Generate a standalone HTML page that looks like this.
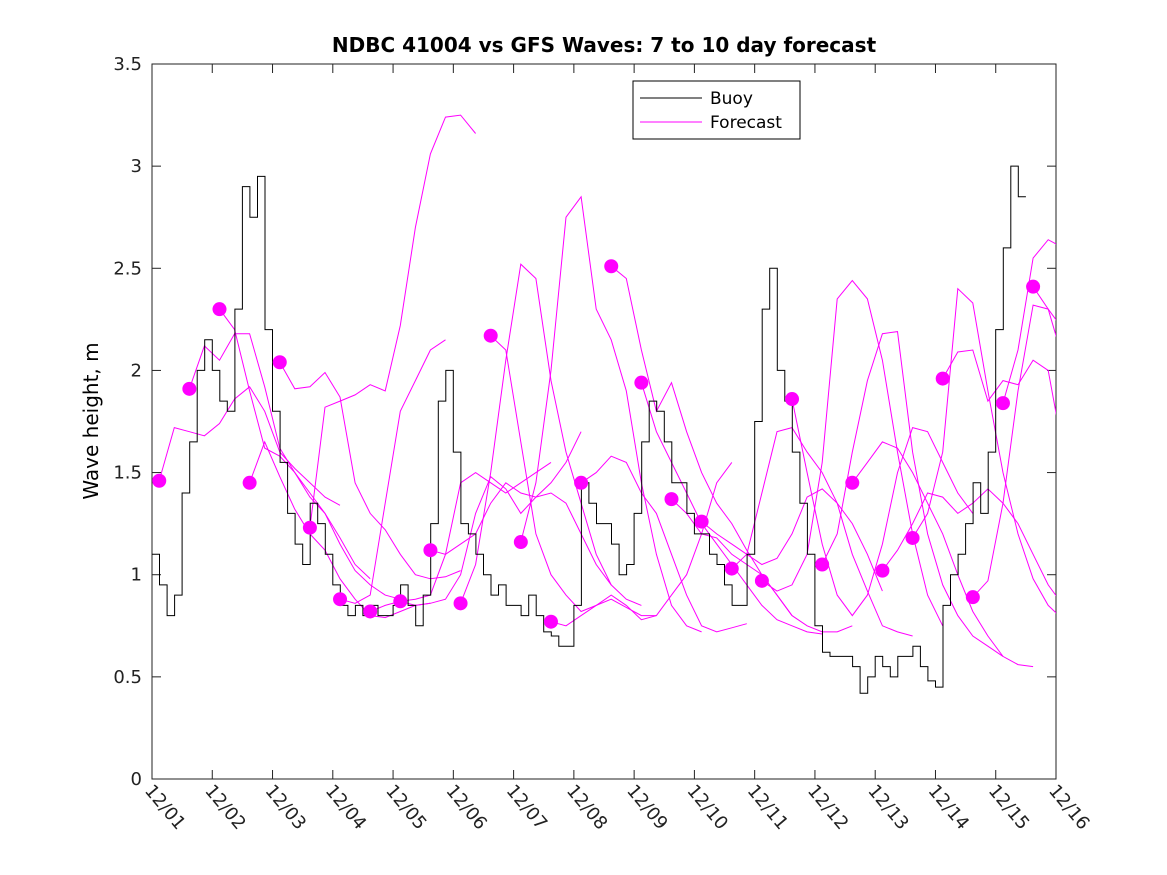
<!DOCTYPE html>
<html><head><meta charset="utf-8"><style>
body{margin:0;background:#fff;}
svg{display:block;font-family:"DejaVu Sans","Liberation Sans",sans-serif;}
</style></head><body>
<svg id="chart" width="1167" height="875" viewBox="0 0 1167 875" xmlns="http://www.w3.org/2000/svg">
<defs><clipPath id="clip"><rect x="152" y="64" width="904" height="715"/></clipPath></defs>
<rect width="1167" height="875" fill="#fff"/>
<text x="604" y="52" text-anchor="middle" font-size="20" font-weight="bold">NDBC 41004 vs GFS Waves: 7 to 10 day forecast</text>
<text transform="translate(98,421) rotate(-90)" text-anchor="middle" font-size="20">Wave height, m</text>
<g id="plot"></g>
<g>
<rect x="633" y="81" width="167" height="58" fill="#fff" stroke="#000" stroke-width="1"/>
<line x1="640" y1="98" x2="702" y2="98" stroke="#000"/>
<text x="710" y="104" font-size="17">Buoy</text>
<line x1="640" y1="122" x2="702" y2="122" stroke="#f0f"/>
<text x="710" y="128" font-size="17">Forecast</text>
</g>
</svg>
<script>
const xLabels=["12/01","12/02","12/03","12/04","12/05","12/06","12/07","12/08","12/09","12/10","12/11","12/12","12/13","12/14","12/15","12/16"];
const yTicks=[0,0.5,1,1.5,2,2.5,3,3.5];
const yTickLabels=["0","0.5","1","1.5","2","2.5","3","3.5"];
const buoyStep=0.125;
const buoy=[1.10,0.95,0.80,0.90,1.40,1.65,2.00,2.15,2.00,1.85,1.80,2.30,2.90,2.75,2.95,2.20,1.80,1.55,1.30,1.15,1.05,1.35,1.25,1.10,0.95,0.85,0.80,0.85,0.80,0.85,0.80,0.80,0.85,0.95,0.85,0.75,0.90,1.25,1.85,2.00,1.60,1.25,1.20,1.10,1.00,0.90,0.95,0.85,0.85,0.80,0.90,0.80,0.72,0.70,0.65,0.65,0.85,1.45,1.35,1.25,1.25,1.15,1.00,1.05,1.30,1.65,1.85,1.80,1.65,1.45,1.45,1.30,1.20,1.20,1.10,1.05,0.95,0.85,0.85,1.10,1.75,2.30,2.50,2.00,1.85,1.60,1.35,1.10,0.75,0.62,0.60,0.60,0.60,0.55,0.42,0.50,0.60,0.55,0.50,0.60,0.60,0.65,0.55,0.48,0.45,0.85,1.00,1.10,1.25,1.45,1.30,1.60,2.20,2.60,3.00,2.85];
const fcStep=0.25;
const fcStarts=[0.12,0.62,1.12,1.62,2.12,2.62,3.12,3.62,4.12,4.62,5.12,5.62,6.12,6.62,7.12,7.62,8.12,8.62,9.12,9.62,10.12,10.62,11.12,11.62,12.12,12.62,13.12,13.62,14.12,14.62];
const fcValues=[
[1.46,1.72,1.70,1.68,1.74,1.86,1.92,1.80,1.60,1.52,1.45,1.38,1.34],
[1.91,2.12,2.05,2.18,2.18,1.92,1.62,1.50,1.40,1.30,1.18,1.05,0.98],
[2.30,2.20,1.90,1.62,1.58,1.50,1.38,1.30,1.15,1.02,0.95,0.90,0.88],
[1.45,1.65,1.48,1.32,1.20,1.12,0.98,0.88,0.80,0.79,0.82,0.85,0.86],
[2.04,1.91,1.92,1.99,1.87,1.45,1.30,1.22,1.10,1.00,0.98,0.99,1.02],
[1.23,1.82,1.85,1.88,1.93,1.90,2.22,2.70,3.06,3.24,3.25,3.16],
[0.88,0.86,0.90,1.35,1.80,1.95,2.10,2.15],
[0.82,0.85,0.87,0.88,0.90,1.10,1.45,1.50,1.45,1.40,1.45,1.50,1.55],
[0.87,0.85,0.86,0.88,1.00,1.30,1.48,1.42,1.30,1.38,1.45,1.55,1.70],
[1.12,1.10,1.15,1.20,1.35,1.45,1.40,1.38,1.40,1.35,1.20,1.05,0.95],
[0.86,1.05,1.50,2.05,2.52,2.45,1.95,1.60,1.35,1.10,0.95,0.88,0.85],
[2.17,2.10,1.65,1.20,1.00,0.90,0.82,0.85,0.88,0.84,0.80,0.80],
[1.16,1.45,2.00,2.75,2.85,2.30,2.15,1.90,1.45,1.10,0.85,0.75,0.72],
[0.77,0.75,0.80,0.85,0.90,0.85,0.78,0.80,0.90,1.00,1.20,1.45,1.55],
[1.45,1.50,1.58,1.55,1.40,1.30,1.10,0.90,0.75,0.72,0.74,0.76],
[2.51,2.45,2.10,1.80,1.94,1.70,1.50,1.35,1.25,1.12,1.00,0.90,0.80],
[1.94,1.70,1.55,1.40,1.25,1.15,1.05,0.95,0.85,0.78,0.75,0.72,0.71],
[1.37,1.30,1.20,1.18,1.10,1.05,1.00,0.90,0.80,0.75,0.72,0.72,0.75],
[1.26,1.20,1.15,1.10,1.05,1.08,1.20,1.38,1.42,1.35,1.25,1.10,0.92],
[1.03,1.10,1.40,1.70,1.72,1.60,1.50,1.35,1.10,0.92,0.75,0.72,0.70],
[0.97,0.92,0.95,1.10,1.55,2.35,2.44,2.35,2.05,1.60,1.20,0.90,0.75],
[1.86,1.50,1.15,0.90,0.80,0.90,1.15,1.50,1.72,1.70,1.55,1.40,1.30],
[1.05,1.20,1.60,1.95,2.18,2.19,1.60,1.20,0.95,0.80,0.70,0.65,0.60],
[1.45,1.55,1.65,1.62,1.50,1.35,1.20,1.00,0.82,0.70,0.60,0.56,0.55],
[1.02,1.12,1.25,1.40,1.38,1.30,1.35,1.42,1.35,1.25,1.10,0.95,0.85],
[1.18,1.30,1.60,2.40,2.33,1.90,1.50,1.20,0.98,0.85,0.78,0.70,0.66],
[1.96,2.09,2.10,1.85,1.95,1.93,2.05,2.00,1.60,1.30,1.10,0.95,0.90],
[0.89,0.97,1.35,1.90,2.32,2.30,2.20,1.90,1.40,1.10,0.95,0.94,0.96],
[1.84,2.10,2.55,2.64,2.60,2.50,2.38,2.30,2.27],
[2.41,2.30,2.05,1.75]
];
const X0=152,X1=1056,Y0=779,Y1=64,DAYS=15,YMAX=3.5;
const xs=d=>X0+(X1-X0)*d/DAYS;
const ys=v=>Y0-(Y0-Y1)*v/YMAX;
const NS="http://www.w3.org/2000/svg";
const g=document.getElementById('plot');
function mk(tag,attrs,parent){const e=document.createElementNS(NS,tag);for(const k in attrs)e.setAttribute(k,attrs[k]);(parent||g).appendChild(e);return e;}
const ax=mk('rect',{x:X0,y:Y1,width:X1-X0,height:Y0-Y1,fill:'none',stroke:'#222','stroke-width':1});


yTicks.forEach((v,i)=>{
  const y=ys(v);
  const t1=mk('line',{x1:X0,y1:y,x2:X0+9,y2:y,stroke:'#222'});
  
  
  const t2=mk('line',{x1:X1-9,y1:y,x2:X1,y2:y,stroke:'#222'});
  
  
  const tx=mk('text',{x:X0-10,y:y+6,'text-anchor':'end','font-size':18,fill:'#222'});
  tx.textContent=yTickLabels[i];
  
  
});
xLabels.forEach((lab,i)=>{
  const x=xs(i);
  const t1=mk('line',{x1:x,y1:Y0,x2:x,y2:Y0-9,stroke:'#222'});
  
  
  const t2=mk('line',{x1:x,y1:Y1,x2:x,y2:Y1+9,stroke:'#222'});
  
  
  const tx=mk('text',{transform:`translate(${x-8},${Y0+12}) rotate(50)`,'font-size':18,fill:'#222'});
  tx.textContent=lab;
  
  
});
const clipG=mk('g',{'clip-path':'url(#clip)'});


fcValues.forEach((vals,k)=>{
  const s=fcStarts[k];
  const pts=vals.map((v,j)=>xs(s+j*fcStep).toFixed(1)+','+ys(v).toFixed(1)).join(' ');
  const p=mk('polyline',{points:pts,fill:'none',stroke:'#f0f','stroke-width':1},clipG);
  
  
});
let d='';
buoy.forEach((v,i)=>{
  const x=xs(i*buoyStep),y=ys(v);
  if(i===0)d+=`M${x.toFixed(1)},${y.toFixed(1)}`;
  else d+=`V${y.toFixed(1)}`;
  d+=`H${xs((i+1)*buoyStep).toFixed(1)}`;
});
const bl=mk('path',{d:d,fill:'none',stroke:'#000','stroke-width':1},clipG);


fcValues.forEach((vals,k)=>{
  const c=mk('ellipse',{cx:xs(fcStarts[k]),cy:ys(vals[0]),rx:7,ry:7,fill:'#f0f'},clipG);
  
  
});
</script>
</body></html>
